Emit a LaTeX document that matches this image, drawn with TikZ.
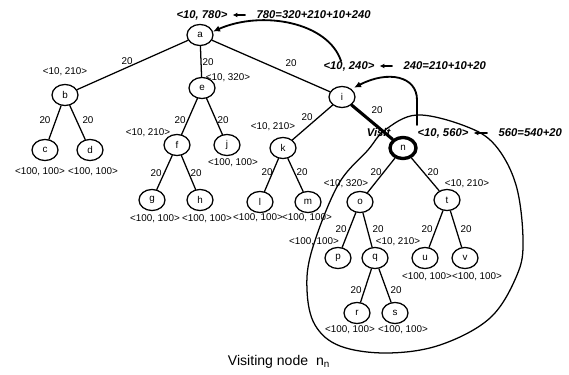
\documentclass[tikz,border=0pt]{standalone}
\usepackage{fontspec}
\setmainfont{Liberation Sans}
\usetikzlibrary{arrows.meta,shapes.geometric}
\tikzset{vert/.style={draw,ellipse,line width=0.9pt,minimum width=18.5pt,minimum height=15pt,inner sep=0pt,font=\scriptsize},
  val/.style={font=\scriptsize,inner sep=0.5pt},
  wt/.style={font=\scriptsize,inner sep=0.5pt},
  sumlab/.style={font=\footnotesize\bfseries\itshape,inner sep=1pt},
  back/.style={-{Latex[length=5pt,width=4.5pt]},line width=1.3pt}}

\begin{document}
\begin{tikzpicture}[x=0.025cm,y=-0.025cm,line cap=round,line join=round]
\useasboundingbox (0,0) rectangle (569,374);
\foreach \n/\x/\y in {a/200/35,b/65/95,e/202/88,i/342/97,c/45/150,d/90/150,f/177/145,j/227/145,g/152/200,h/200/200,k/283/148,l/260/202,m/308/202,o/360/202,t/447/200,p/338/258,q/375/258,u/425/258,v/465/258,r/357/313,s/395/313}{\node[vert] (\n) at (\x,\y) {\n};}
\node[vert,line width=2.4pt] (n) at (403,148) {n};
\foreach \u/\v in {a/b,a/e,a/i,b/c,b/d,e/f,e/j,f/g,f/h,i/k,k/l,k/m,n/o,n/t,o/p,o/q,t/u,t/v,q/r,q/s}{\draw[line width=0.9pt] (\u)--(\v);}
\draw[line width=2.2pt] (i)--(n);
\foreach \x/\y [count=\k] in {127/61,208/62,291/63,45/120,88/120,180/120,223/120,156/173,196/173,307/117,377/110,267/172,302/172,376/172,433/172,341/229,378/229,427/229,466/229,356/290,396/290}{\node[wt] (w\k) at (\x,\y) {20};}
\foreach \x/\y/\v [count=\k] in {65/72/210,228/78/320,148/133/210,273/127/210,346/184/320,467/184/210,398/242/210}{\node[val] (s\k) at (\x,\y) {<10, \v>};}
\foreach \x/\y [count=\k] in {40/172,93/172,233/163,155/219,207/219,258/218,307/218,314/242,427/277,477/277,350/330,403/330}{\node[val] (z\k) at (\x,\y) {<100, 100>};}
\node[sumlab] (ta) at (202,15) {<10, 780>};
\node[sumlab,anchor=west] (ea) at (255,15) {780=320+210+10+240};
\node[sumlab] (ti) at (349,66) {<10, 240>};
\node[sumlab,anchor=west] (ei) at (402,66) {240=210+10+20};
\node[sumlab] (tn) at (443,133) {<10, 560>};
\node[sumlab,anchor=west] (en) at (497,133) {560=540+20};
\node[sumlab,anchor=east] (vis) at (392,132) {Visit};
\foreach \e/\t in {ea/ta,ei/ti,en/tn}{\draw[-{Latex[length=3.5pt,width=3.5pt]},line width=0.9pt,shorten >=2.5pt,shorten <=7pt] (\e)--(\t);}
\coordinate (up1) at (341,61);
\coordinate (up2) at (417,125);
\draw[back] (up1) .. controls (328,22) and (262,10) .. (a.15);
\draw[back,shorten >=2pt] (up2) -- (417,100) .. controls (417,76) and (388,70) .. (i.40);
\draw[line width=0.9pt] plot[smooth cycle,tension=0.6] coordinates {(385,130) (417,115) (465,126) (495,145) (516,185) (523,240) (517,275) (490,318) (440,345) (387,353) (340,346) (315,325) (307,290) (312,250) (338,185) (368,150)};
\node (cap) at (279,362) {Visiting node\ \ n\textsubscript{n}};
\end{tikzpicture}
\end{document}
